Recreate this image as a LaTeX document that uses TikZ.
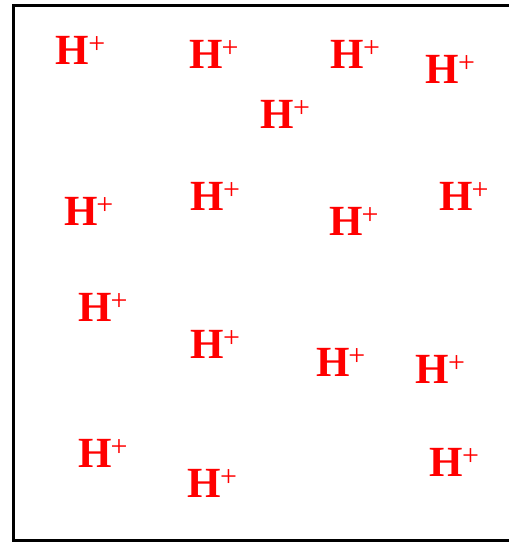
\documentclass[tikz,border=0pt]{standalone}
\usepackage{fontspec}
\setmainfont{Liberation Serif}
\begin{document}
\begin{tikzpicture}[x=1pt,y=-1pt,
  ion/.style={anchor=base west,inner sep=0pt,outer sep=0pt,text=red},
  frame/.style={draw=black,line width=2.2pt}]
\useasboundingbox (0,0) rectangle (509,542);
\newcommand{\hplus}{{\fontsize{43}{43}\selectfont\bfseries H\kern-1pt\raisebox{11pt}{\fontsize{30}{30}\selectfont\mdseries +}}}
\draw[frame] (512,5.5) -- (13.5,5.5) -- (13.5,540.5) -- (512,540.5);
\node[ion] (h1) at (56,64.3) {\hplus};
\node[ion] (h2) at (189.3,68.3) {\hplus};
\node[ion] (h3) at (330.7,68.3) {\hplus};
\node[ion] (h4) at (425.7,83.3) {\hplus};
\node[ion] (h5) at (260.7,128.3) {\hplus};
\node[ion] (h6) at (64,225) {\hplus};
\node[ion] (h7) at (190.7,210) {\hplus};
\node[ion] (h8) at (329.3,235) {\hplus};
\node[ion] (h9) at (439.3,210.7) {\hplus};
\node[ion] (h10) at (78.3,321.7) {\hplus};
\node[ion] (h11) at (190.7,358.3) {\hplus};
\node[ion] (h12) at (316,376.7) {\hplus};
\node[ion] (h13) at (415.7,383.3) {\hplus};
\node[ion] (h14) at (78.3,467.3) {\hplus};
\node[ion] (h15) at (187.7,497.3) {\hplus};
\node[ion] (h16) at (429.7,476.7) {\hplus};
\end{tikzpicture}
\end{document}
